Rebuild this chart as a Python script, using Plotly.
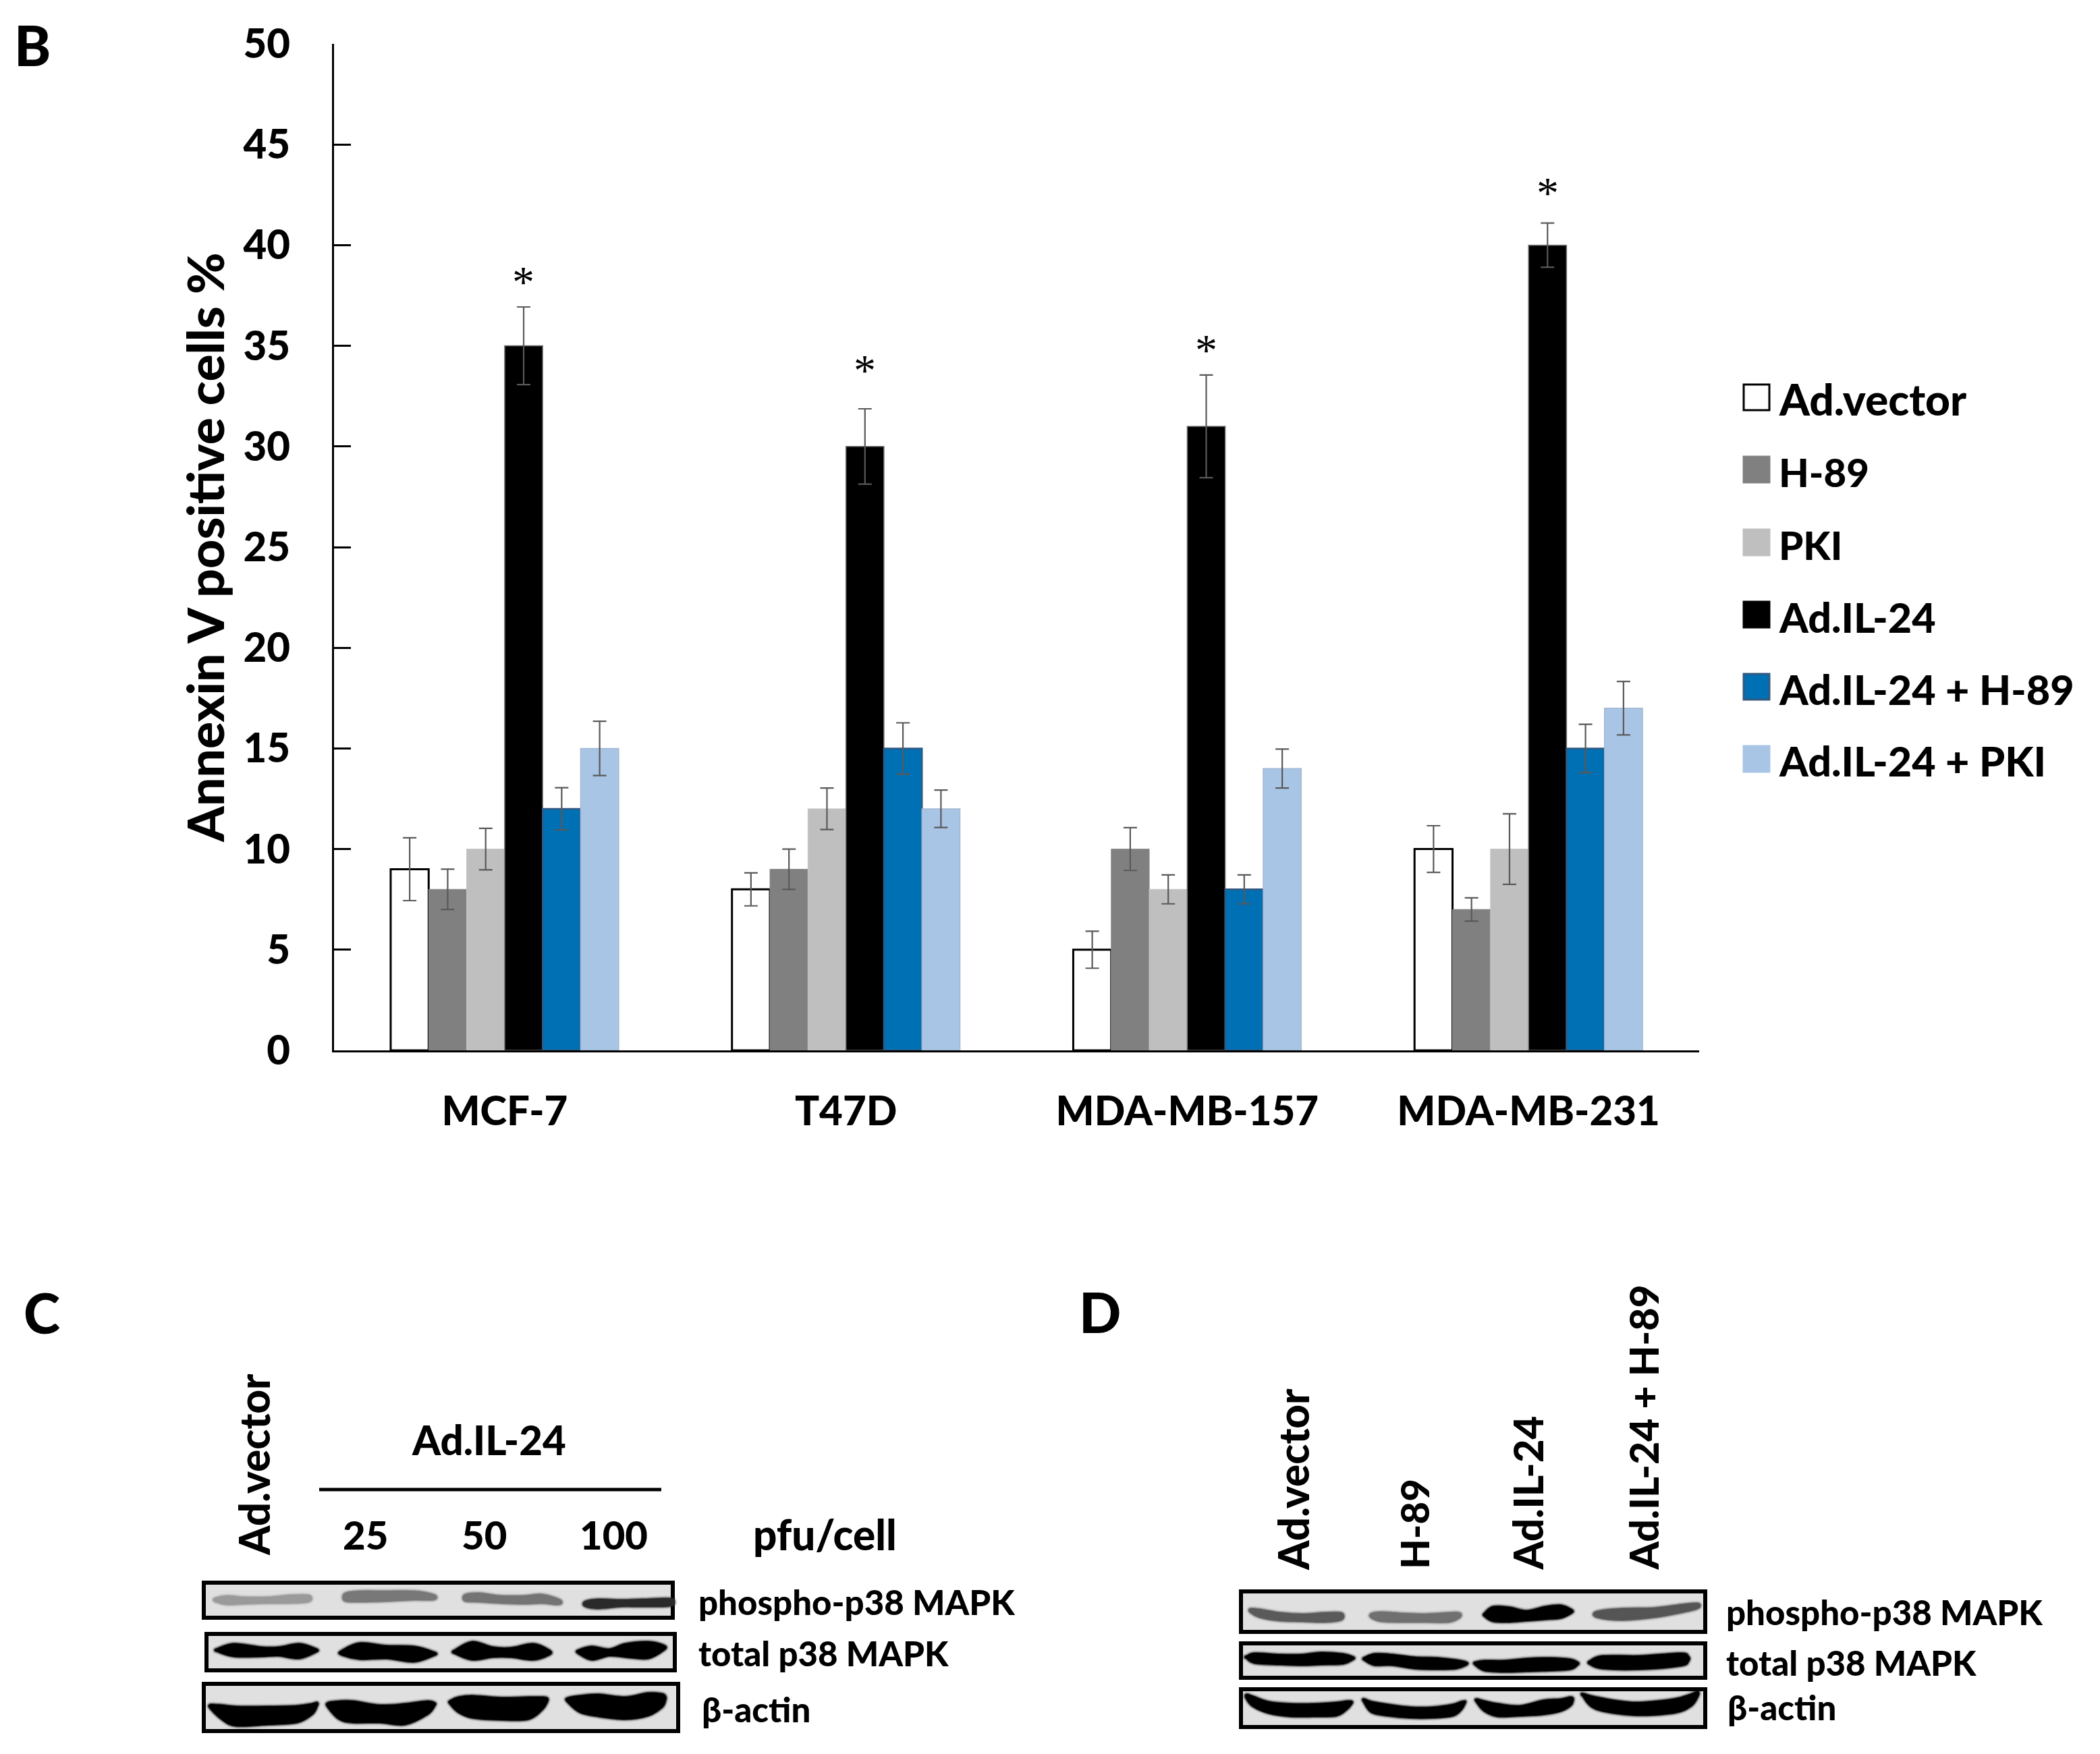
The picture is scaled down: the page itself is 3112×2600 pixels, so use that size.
import plotly.graph_objects as go

W, H = 3112, 2600
FONT = "Lato"
BOLD = 900

categories = ["MCF-7", "T47D", "MDA-MB-157", "MDA-MB-231"]
y_ticks = [0, 5, 10, 15, 20, 25, 30, 35, 40, 45, 50]

ad_vector = [9, 8, 5, 10]
h89 = [8, 9, 10, 7]
pki = [10, 12, 8, 10]
ad_il24 = [35, 30, 31, 40]
ad_il24_h89 = [12, 15, 8, 15]
ad_il24_pki = [15, 12, 14, 17]

err_ad_vector = [1.56, 0.82, 0.92, 1.16]
err_h89 = [1.0, 1.0, 1.06, 0.58]
err_pki = [1.03, 1.03, 0.72, 1.75]
err_ad_il24 = [1.93, 1.87, 2.55, 1.1]
err_ad_il24_h89 = [1.05, 1.27, 0.72, 1.2]
err_ad_il24_pki = [1.35, 0.93, 0.97, 1.33]

series_names = ["Ad.vector", "H-89", "PKI", "Ad.IL-24", "Ad.IL-24 + H-89", "Ad.IL-24 + PKI"]
series_values = [ad_vector, h89, pki, ad_il24, ad_il24_h89, ad_il24_pki]
series_errors = [err_ad_vector, err_h89, err_pki, err_ad_il24, err_ad_il24_h89, err_ad_il24_pki]
series_fill = ["#FFFFFF", "#808080", "#BFBFBF", "#000000", "#0070B4", "#A9C5E5"]
series_line = ["#000000", "#8A8A8A", "#C4C4C4", "#777777", "#33587F", "#A3B8D3"]
series_lw = [3, 1, 1, 1.5, 2.5, 1.5]
legend_sizes = [64, 58, 58, 61, 61, 61]

star_values = [38.3, 33.9, 34.9, 42.7]


def px(x):
    return x / W


def py(y):
    return 1 - y / H


fig = go.Figure()
for name, vals, errs, fill, line, lw in zip(series_names, series_values, series_errors,
                                            series_fill, series_line, series_lw):
    fig.add_trace(go.Bar(
        name=name, x=categories, y=vals,
        marker=dict(color=fill, line=dict(color=line, width=lw)),
        error_y=dict(type="data", array=errs, visible=True, color="#595959",
                     thickness=2.2, width=10),
        showlegend=False,
    ))

shapes = []
annotations = []


def text(x, y, s, size, xanchor="left", yanchor="middle", angle=0):
    annotations.append(dict(
        x=px(x), y=py(y), xref="paper", yref="paper", text=s, showarrow=False,
        xanchor=xanchor, yanchor=yanchor, textangle=angle,
        font=dict(family=FONT, size=size, color="#000000", weight=BOLD),
    ))


# significance marks
for cat, v in zip(categories, star_values):
    annotations.append(dict(
        x=cat, y=v, xref="x", yref="y", text="*", showarrow=False, xshift=28, yshift=-3,
        font=dict(family="Liberation Serif", size=66, color="#000000"),
    ))

# legend
legend_rows = [589, 696, 804, 911, 1018, 1125]
for name, fill, size, yc in zip(series_names, series_fill, legend_sizes, legend_rows):
    lc = "#000000" if fill == "#FFFFFF" else ("#33587F" if fill == "#0070B4" else fill)
    shapes.append(dict(type="rect", xref="paper", yref="paper",
                       x0=px(2584), x1=px(2622), y0=py(yc - 19), y1=py(yc + 19),
                       fillcolor=fill, line=dict(color=lc, width=3)))
    text(2634, yc + 3, name, size)

# panel letters
text(19, 66, "B", 82)
text(33, 1945, "C", 82)
text(1597, 1944, "D", 82)

# Panel C text
text(724, 2134, "Ad.IL-24", 60, xanchor="center")
text(541, 2274, "25", 58, xanchor="center")
text(717, 2274, "50", 58, xanchor="center")
text(909, 2274, "100", 58, xanchor="center")
text(1222, 2274, "pfu/cell", 62, xanchor="center")
text(376, 2308, "Ad.vector", 62, xanchor="center", yanchor="bottom", angle=-90)
shapes.append(dict(type="line", xref="paper", yref="paper", x0=px(473), x1=px(980),
                   y0=py(2208), y1=py(2208), line=dict(color="#000000", width=5)))
text(1033, 2374, "phospho-p38 MAPK", 51)
text(1033, 2450, "total p38 MAPK", 51)
text(1038, 2533, "β-actin", 51)

# Panel D text
text(1916, 2330, "Ad.vector", 62, xanchor="center", yanchor="bottom", angle=-90)
text(2095, 2328, "H-89", 58, xanchor="center", yanchor="bottom", angle=-90)
text(2263, 2330, "Ad.IL-24", 60, xanchor="center", yanchor="bottom", angle=-90)
text(2435, 2330, "Ad.IL-24 + H-89", 59, xanchor="center", yanchor="bottom", angle=-90)
text(2556, 2389, "phospho-p38 MAPK", 51)
text(2556, 2464, "total p38 MAPK", 51)
text(2558, 2530, "β-actin", 51)

# Blot panels: outer x0, y0, x1, y1
blot_panels = [
    (299, 2343, 1000, 2401), (303, 2419, 1003, 2479), (299, 2493, 1008, 2569),
    (1836, 2356, 2530, 2422), (1836, 2433, 2530, 2490), (1836, 2501, 2530, 2563),
]
for x0, y0, x1, y1 in blot_panels:
    shapes.append(dict(type="rect", xref="paper", yref="paper",
                       x0=px(x0 + 3), x1=px(x1 - 3), y0=py(y0 + 3), y1=py(y1 - 3),
                       fillcolor="#E0E0E0", line=dict(color="#000000", width=6)))

# Blot bands: x stations, top edge, bottom edge, tone
blot_bands = [
    # panel C, phospho
    ([320, 337, 363, 397, 430, 457], [2370, 2367, 2369, 2369, 2366, 2366], [2373, 2377, 2376, 2375, 2375, 2373], "#9A9A9A"),
    ([512, 533, 573, 613, 642], [2363, 2360, 2360, 2360, 2365], [2372, 2373, 2372, 2370, 2370], "#787878"),
    ([690, 710, 743, 777, 803, 828], [2365, 2363, 2367, 2367, 2365, 2372], [2372, 2373, 2375, 2376, 2375, 2377], "#747474"),
    ([868, 887, 920, 953, 993], [2375, 2372, 2373, 2372, 2371], [2380, 2383, 2380, 2380, 2379], "#2A2A2A"),
    # panel C, total
    ([323, 347, 387, 413, 443, 467], [2445, 2438, 2443, 2443, 2438, 2445], [2447, 2454, 2454, 2453, 2457, 2448], "#000000"),
    ([507, 533, 573, 613, 642], [2448, 2437, 2441, 2442, 2450], [2452, 2458, 2457, 2462, 2453], "#000000"),
    ([675, 700, 730, 757, 790, 813], [2447, 2435, 2443, 2444, 2438, 2447], [2450, 2459, 2455, 2455, 2459, 2452], "#000000"),
    ([858, 877, 903, 927, 960, 983], [2447, 2442, 2446, 2438, 2435, 2440], [2450, 2459, 2453, 2455, 2457, 2445], "#000000"),
    # panel C, actin
    ([313, 330, 350, 397, 440, 462, 469], [2528, 2529, 2531, 2531, 2530, 2527, 2525], [2532, 2548, 2557, 2555, 2552, 2540, 2528], "#000000"),
    ([487, 503, 523, 563, 600, 633, 643], [2525, 2523, 2523, 2529, 2527, 2523, 2525], [2530, 2547, 2552, 2552, 2555, 2540, 2528], "#000000"),
    ([668, 680, 700, 743, 783, 803, 810], [2522, 2517, 2515, 2518, 2517, 2517, 2518], [2525, 2537, 2545, 2548, 2547, 2533, 2522], "#000000"),
    ([842, 860, 887, 927, 960, 980, 985], [2518, 2515, 2513, 2517, 2511, 2512, 2515], [2522, 2537, 2543, 2547, 2542, 2530, 2520], "#000000"),
    # panel D, phospho
    ([1854, 1867, 1897, 1930, 1963, 1987], [2386, 2387, 2392, 2394, 2392, 2392], [2389, 2396, 2401, 2402, 2403, 2400], "#5A5A5A"),
    ([2033, 2047, 2080, 2113, 2147, 2162], [2393, 2391, 2393, 2394, 2392, 2392], [2397, 2402, 2403, 2403, 2403, 2397], "#707070"),
    ([2201, 2213, 2237, 2263, 2290, 2313, 2328], [2392, 2383, 2384, 2389, 2383, 2381, 2387], [2395, 2402, 2403, 2401, 2399, 2397, 2390], "#000000"),
    ([2367, 2402, 2451, 2491, 2515], [2390, 2386, 2385, 2380, 2378], [2396, 2400, 2396, 2389, 2383], "#555555"),
    # panel D, total
    ([1848, 1860, 1897, 1930, 1957, 1990, 2004], [2456, 2452, 2454, 2454, 2451, 2453, 2457], [2457, 2464, 2466, 2467, 2466, 2465, 2459], "#000000"),
    ([2023, 2037, 2063, 2097, 2130, 2158, 2172], [2458, 2453, 2454, 2458, 2459, 2462, 2465], [2460, 2467, 2467, 2472, 2473, 2472, 2467], "#000000"),
    ([2187, 2200, 2230, 2263, 2297, 2327, 2337], [2465, 2463, 2463, 2460, 2459, 2461, 2465], [2467, 2475, 2477, 2476, 2475, 2473, 2467], "#000000"),
    ([2357, 2375, 2430, 2490, 2501], [2463, 2456, 2456, 2452, 2456], [2466, 2472, 2473, 2468, 2462], "#000000"),
    # panel D, actin
    ([1848, 1857, 1880, 1913, 1947, 1980, 1995, 2002], [2513, 2516, 2524, 2527, 2527, 2525, 2523, 2523], [2517, 2528, 2538, 2543, 2543, 2542, 2533, 2525], "#000000"),
    ([2022, 2033, 2057, 2090, 2123, 2153, 2165, 2170], [2520, 2524, 2528, 2532, 2532, 2528, 2524, 2523], [2522, 2537, 2542, 2545, 2545, 2542, 2533, 2524], "#000000"),
    ([2189, 2200, 2220, 2253, 2287, 2313, 2327, 2330], [2520, 2523, 2527, 2530, 2522, 2520, 2517, 2518], [2522, 2535, 2543, 2542, 2540, 2535, 2527, 2520], "#000000"),
    ([2347, 2365, 2420, 2480, 2505, 2515], [2512, 2517, 2525, 2520, 2513, 2509], [2514, 2532, 2541, 2538, 2528, 2514], "#000000"),
]


def band_path(xs, tops, bots):
    ring = list(zip(xs, tops)) + list(zip(reversed(xs), reversed(bots)))
    n = len(ring)
    d = f"M{px(ring[0][0]):.6f},{py(ring[0][1]):.6f}"
    for i in range(n):
        p0, p1, p2, p3 = ring[i - 1], ring[i], ring[(i + 1) % n], ring[(i + 2) % n]
        c1 = (p1[0] + (p2[0] - p0[0]) / 6, p1[1] + (p2[1] - p0[1]) / 6)
        c2 = (p2[0] - (p3[0] - p1[0]) / 6, p2[1] - (p3[1] - p1[1]) / 6)
        d += (f" C{px(c1[0]):.6f},{py(c1[1]):.6f} {px(c2[0]):.6f},{py(c2[1]):.6f}"
              f" {px(p2[0]):.6f},{py(p2[1]):.6f}")
    return d + " Z"


for xs, tops, bots, tone in blot_bands:
    path = band_path(xs, tops, bots)
    for width, op in [(11, 0.12), (8, 0.25), (6, 0.5), (4, 1.0)]:
        shapes.append(dict(type="path", xref="paper", yref="paper", path=path,
                           fillcolor=tone, opacity=op,
                           line=dict(color=tone, width=width)))

fig.update_layout(
    width=W, height=H, autosize=False,
    margin=dict(l=0, r=0, t=0, b=0, pad=0),
    paper_bgcolor="#FFFFFF", plot_bgcolor="#FFFFFF",
    barmode="group", bargap=0.332, bargroupgap=0,
    showlegend=False,
    shapes=shapes, annotations=annotations,
    font=dict(family=FONT, color="#000000"),
    xaxis=dict(
        domain=[495 / W, 2518 / W], type="category", categoryorder="array",
        categoryarray=categories, showgrid=False, zeroline=False, showline=True,
        linecolor="#000000", linewidth=3, ticks="", ticklabelstandoff=36, automargin=False,
        tickfont=dict(family=FONT, size=60, color="#000000", weight=BOLD),
    ),
    yaxis=dict(
        domain=[1 - 1557 / H, 1 - 65 / H], range=[0, 50], tickvals=y_ticks,
        showgrid=False, zeroline=False, showline=True, linecolor="#000000", linewidth=3,
        ticks="inside", ticklen=25, tickwidth=2.5, tickcolor="#000000",
        ticklabelstandoff=50, automargin=False,
        tickfont=dict(family=FONT, size=60, color="#000000", weight=BOLD),
        title=dict(text="Annexin V positive cells %", standoff=4,
                   font=dict(family=FONT, size=75, color="#000000", weight=BOLD)),
    ),
)

fig.write_html("out.html", config={"responsive": False, "displayModeBar": False},
               post_script="document.body.style.margin='0';")
